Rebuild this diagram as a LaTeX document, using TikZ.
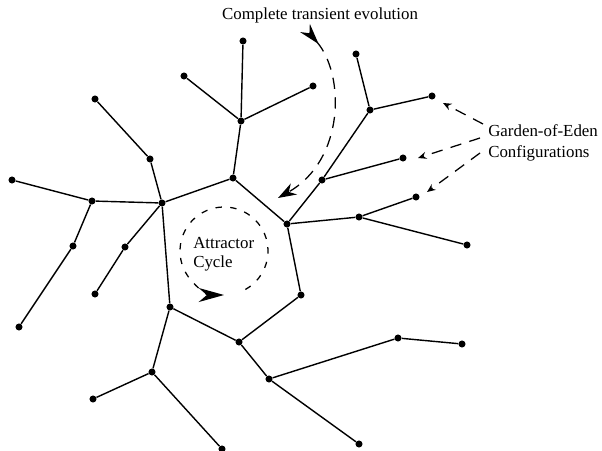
\documentclass[tikz,border=0pt]{standalone}
\usepackage{fontspec}
\setmainfont{Liberation Serif}
\usetikzlibrary{arrows.meta}

\begin{document}
\begin{tikzpicture}[x=0.025cm,y=-0.025cm,
    state/.style={circle,fill=black,inner sep=0pt,minimum size=5pt},
    edge/.style={line width=1pt},
    txt/.style={font=\fontsize{12}{14}\selectfont,inner sep=0pt},
    flow/.style={line width=0.9pt,dash pattern=on 8pt off 6pt}]
    \useasboundingbox (0,0) rectangle (602,451);
    \node[state] (c1) at (233,178) {};
    \node[state] (c2) at (287,224) {};
    \node[state] (c3) at (301,295) {};
    \node[state] (c4) at (239,342) {};
    \node[state] (c5) at (170,307) {};
    \node[state] (c6) at (162,203) {};
    \node[state] (a1) at (241,121) {};
    \node[state] (a2) at (243,41) {};
    \node[state] (a3) at (184,76) {};
    \node[state] (a4) at (313,86) {};
    \node[state] (b1) at (150,159) {};
    \node[state] (b2) at (95,99) {};
    \node[state] (b3) at (92,201) {};
    \node[state] (b4) at (12,180) {};
    \node[state] (b5) at (73,246) {};
    \node[state] (b6) at (19,327) {};
    \node[state] (b7) at (125,247) {};
    \node[state] (b8) at (95,294) {};
    \node[state] (d1) at (152,372) {};
    \node[state] (d2) at (93,399) {};
    \node[state] (d3) at (222,449) {};
    \node[state] (e1) at (269,379) {};
    \node[state] (e2) at (398,338) {};
    \node[state] (e3) at (462,344) {};
    \node[state] (e4) at (359,444) {};
    \node[state] (f1) at (322,180) {};
    \node[state] (f2) at (370,110) {};
    \node[state] (f3) at (356,54) {};
    \node[state] (f4) at (432,96) {};
    \node[state] (f5) at (403,158) {};
    \node[state] (h1) at (359,217) {};
    \node[state] (h2) at (416,197) {};
    \node[state] (h3) at (467,245) {};
    \draw[edge] (c1) -- (c2) -- (c3) -- (c4) -- (c5) -- (c6) -- (c1);
    \draw[edge] (c1) -- (a1) -- (a2);
    \draw[edge] (a3) -- (a1) -- (a4);
    \draw[edge] (c6) -- (b1) -- (b2);
    \draw[edge] (c6) -- (b3) -- (b4);
    \draw[edge] (b3) -- (b5) -- (b6);
    \draw[edge] (c6) -- (b7) -- (b8);
    \draw[edge] (c5) -- (d1) -- (d2);
    \draw[edge] (d1) -- (d3);
    \draw[edge] (c4) -- (e1) -- (e2) -- (e3);
    \draw[edge] (e1) -- (e4);
    \draw[edge] (c2) -- (f1) -- (f2) -- (f3);
    \draw[edge] (f2) -- (f4);
    \draw[edge] (f1) -- (f5);
    \draw[edge] (c2) -- (h1) -- (h2);
    \draw[edge] (h1) -- (h3);
    \node[txt,anchor=base] (trans) at (320,20) {Complete transient evolution};
    \node[txt,anchor=base west] (attr) at (193,248) {Attractor};
    \node[txt,anchor=base west] (cyc) at (193,267) {Cycle};
    \node[txt,anchor=base west] (goe) at (488,137) {Garden-of-Eden};
    \node[txt,anchor=base west] (conf) at (488,158) {Configurations};
    \coordinate (t0) at (305,28);
    \coordinate (t1) at (278,198);
    \draw[flow,{Stealth[reversed,length=15pt,width=9pt]}-{Stealth[length=13pt,width=9pt]}]
      (t0) .. controls (345,75) and (345,160) .. (t1);
    \draw[line width=0.9pt,dash pattern=on 4.5pt off 6pt,-{Stealth[length=18pt,width=10pt]}]
      (224,251) ++(61:44) arc[start angle=61,end angle=-270,radius=44];
    \coordinate (g1s) at (483,124);
    \coordinate (g1e) at (443,103);
    \coordinate (g2s) at (480,138);
    \coordinate (g2e) at (418,158);
    \coordinate (g3s) at (480,153);
    \coordinate (g3e) at (427,192);
    \draw[flow,-{Stealth[length=6pt,width=5pt]}] (g1s) -- (g1e);
    \draw[flow,-{Stealth[length=6pt,width=5pt]}] (g2s) -- (g2e);
    \draw[flow,-{Stealth[length=6pt,width=5pt]}] (g3s) -- (g3e);
\end{tikzpicture}
\end{document}
